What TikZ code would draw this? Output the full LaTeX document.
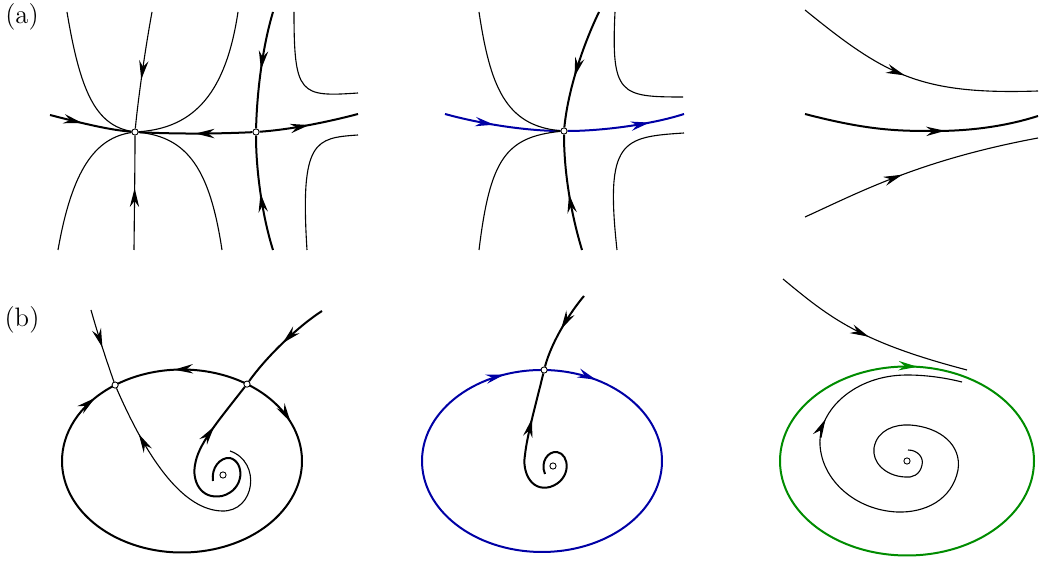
\documentclass[tikz,border=0pt]{standalone}
\usepackage{tikz}
\usetikzlibrary{arrows.meta,decorations.markings,backgrounds}
\definecolor{cycblue}{RGB}{0,0,165}
\definecolor{cycgreen}{RGB}{0,140,0}

\begin{document}
\begin{tikzpicture}[
  x=0.45pt, y=-0.45pt,
  >={Stealth[length=8.5pt, width=4.2pt, inset=2.8pt]},
  fixpt/.style={circle, draw, fill=white, inner sep=0pt, minimum size=2.8pt, line width=0.4pt},
  traj/.style={line width=0.5pt},
  sep/.style={line width=0.9pt},
  arrowat/.style={postaction={decorate, decoration={markings, mark=at position #1 with {\arrow{>}}}}},
  lab/.style={font=\large}
]
  \useasboundingbox (0,0) rectangle (1040,562);
  \node[lab] (lab-a) at (22,17) {(a)};
  \node[lab] (lab-b) at (22,320) {(b)};

  % fixed points
  \node[fixpt] (pa1) at (135,132) {};
  \node[fixpt] (pa2) at (256,132) {};
  \node[fixpt] (pb) at (564,131) {};
  \node[fixpt] (qL) at (115.1,385.05) {};
  \node[fixpt] (qR) at (247,384.1) {};
  \node[fixpt] (qT) at (544.1,370) {};
  \node[fixpt] (fc1) at (223,475) {};
  \node[fixpt] (fc2) at (553,466) {};
  \node[fixpt] (fc3) at (907,461) {};

  \begin{scope}[on background layer]
  % (a), left
  \draw[sep, arrowat=0.4] (50,115) .. controls (85,124) and (110,130) .. (pa1);
  \draw[sep, arrowat=0.5] (pa2) .. controls (215,134) and (175,134) .. (pa1);
  \draw[sep, arrowat=0.5] (pa2) .. controls (285,130) and (320,124) .. (358,114);
  \draw[traj, arrowat=0.58] (152,12) .. controls (145,50) and (138,100) .. (pa1);
  \draw[traj, arrowat=0.54] (134,250) .. controls (134.5,200) and (135,165) .. (pa1);
  \draw[sep, arrowat=0.5] (273,12) .. controls (263,45) and (257,90) .. (pa2);
  \draw[sep, arrowat=0.5] (273,250) .. controls (262,215) and (256,170) .. (pa2);
  \draw[traj] (67,12) .. controls (80,90) and (95,125) .. (pa1);
  \draw[traj] (238,12) .. controls (226,92) and (195,128) .. (pa1);
  \draw[traj] (58,250) .. controls (72,170) and (95,138) .. (pa1);
  \draw[traj] (222,250) .. controls (210,170) and (188,137) .. (pa1);
  \draw[traj] (294,12) .. controls (294,95) and (300,97) .. (358,93);
  \draw[traj] (307,250) .. controls (300,140) and (315,138) .. (358,135);

  % (a), middle
  \draw[sep, cycblue, arrowat=0.43] (445,114) .. controls (485,125) and (530,131) .. (pb);
  \draw[sep, cycblue, arrowat=0.7] (pb) .. controls (600,131) and (650,125) .. (684,114);
  \draw[sep, arrowat=0.57] (599,12) .. controls (583,45) and (568,90) .. (pb);
  \draw[sep, arrowat=0.49] (582,250) .. controls (570,210) and (564,170) .. (pb);
  \draw[traj] (479,12) .. controls (490,85) and (505,126) .. (pb);
  \draw[traj] (479,250) .. controls (490,160) and (505,137) .. (pb);
  \draw[traj] (615,12) .. controls (611,95) and (620,97) .. (683,97);
  \draw[traj] (617,250) .. controls (605,140) and (622,137) .. (684,133);

  % (a), right
  \draw[traj, arrowat=0.47] (805,10) .. controls (885,75) and (920,95) .. (1038,91);
  \draw[sep, arrowat=0.6] (805,114) .. controls (870,131) and (900,131) .. (935,131)
    .. controls (975,131) and (1010,125) .. (1038,116);
  \draw[traj, arrowat=0.43] (805,217) .. controls (860,192) and (920,160) .. (1038,138);

  % (b), left
  \draw[sep, arrowat=0.55] (qR) arc[start angle=-57.2, end angle=-123.9, x radius=120, y radius=91.5];
  \draw[sep, arrowat=0.11, arrowat=0.955] (qR) arc[start angle=-57.2, end angle=236.1, x radius=120, y radius=91.5];
  \draw[traj, arrowat=0.52] (91,310) .. controls (98,335) and (107,362) .. (qL);
  \draw[traj, arrowat=0.8] (230,451) .. controls (262,462) and (255,512) .. (222,511)
    .. controls (185,510) and (150,465) .. (qL);
  \draw[sep, arrowat=0.5] (322,311) .. controls (303,323) and (270,352) .. (qR);
  \draw[sep, arrowat=0.78] (213,481) .. controls (211,468) and (220,457) .. (230,458)
    .. controls (245,462) and (245,490) .. (222,496)
    .. controls (200,500) and (192,480) .. (195,465)
    .. controls (198,445) and (215,425) .. (qR);

  % (b), middle
  \draw[sep, cycblue, arrowat=0.08, arrowat=0.94] (qT) arc[start angle=-89, end angle=271, x radius=120, y radius=91];
  \draw[sep, arrowat=0.5] (584,296) .. controls (572,310) and (552,340) .. (qT);
  \draw[sep, arrowat=0.78] (545,474) .. controls (540,462) and (548,451) .. (557,452)
    .. controls (570,454) and (572,480) .. (550,487)
    .. controls (530,492) and (522,470) .. (525,455)
    .. controls (527,435) and (537,400) .. (qT);

  % (b), right
  \draw[sep, cycgreen, arrowat=0.265] (780,461) arc[start angle=180, end angle=540, x radius=127, y radius=94.5];
  \draw[traj, arrowat=0.5] (783,279) .. controls (830,318) and (860,342) .. (967,370);
  \draw[traj, arrowat=0.74] (908,450) .. controls (918,450) and (924,458) .. (922,465)
    .. controls (920,475) and (912,478) .. (905,477)
    .. controls (885,476) and (872,462) .. (874,448)
    .. controls (877,430) and (895,424) .. (910,425)
    .. controls (940,427) and (962,445) .. (958,470)
    .. controls (952,500) and (925,513) .. (897,512)
    .. controls (855,510) and (822,480) .. (820,445)
    .. controls (818,410) and (855,375) .. (907,375)
    .. controls (930,375) and (950,379) .. (962,382);
  \end{scope}
\end{tikzpicture}
\end{document}
